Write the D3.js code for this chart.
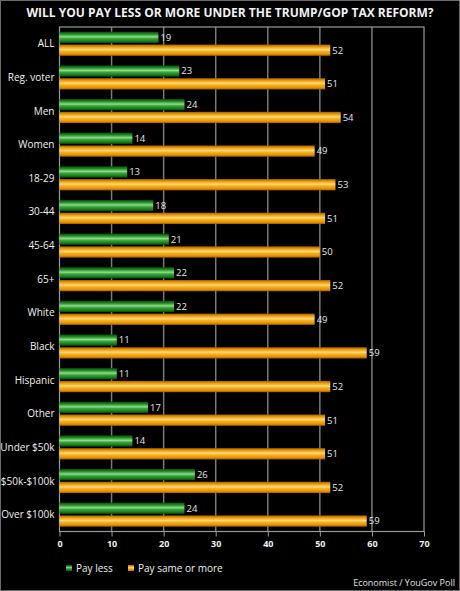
<!DOCTYPE html>
<html><head><meta charset="utf-8">
<script src="https://cdn.jsdelivr.net/npm/d3@7"></script>
<style>
html,body{margin:0;padding:0;background:#000;}
svg{display:block;font-family:"Open Sans","DejaVu Sans",sans-serif;}
</style></head>
<body>
<script>
const categories = ["ALL","Reg. voter","Men","Women","18-29","30-44","45-64","65+","White","Black","Hispanic","Other","Under $50k","$50k-$100k","Over $100k"];
const payLess = [19,23,24,14,13,18,21,22,22,11,11,17,14,26,24];
const paySame = [52,51,54,49,53,51,50,52,49,59,52,51,51,52,59];
const seriesNames = ["Pay less","Pay same or more"];
const xTicks = [0,10,20,30,40,50,60,70];

const W=460,H=591;
const m={left:59.5,right:424,top:27,bottom:531.5};
const svg=d3.select("body").append("svg").attr("width",W).attr("height",H);
const defs=svg.append("defs");
function grad(id,stops){
  const g=defs.append("linearGradient").attr("id",id).attr("x1",0).attr("x2",0).attr("y1",0).attr("y2",1);
  stops.forEach(s=>g.append("stop").attr("offset",s[0]).attr("stop-color",s[1]));
}
grad("gGreen",[[0,"#0b4d0b"],[0.2,"#1f8a1f"],[0.45,"#8fdc8f"],[0.6,"#3aa83a"],[0.85,"#177a17"],[1,"#0a420a"]]);
grad("gOrange",[[0,"#a86000"],[0.2,"#ec9c00"],[0.45,"#ffd880"],[0.6,"#f7b222"],[0.85,"#e49000"],[1,"#9a5800"]]);

svg.append("rect").attr("x",0.5).attr("y",0.5).attr("width",W-1).attr("height",H-1).attr("fill","#000").attr("stroke","#6a6a6a");

svg.append("text").attr("x",230).attr("y",17).attr("text-anchor","middle").attr("fill","#f2f2f2")
  .attr("font-size",12).attr("font-weight","bold").text("WILL YOU PAY LESS OR MORE UNDER THE TRUMP/GOP TAX REFORM?");

const x=d3.scaleLinear().domain([0,70]).range([m.left,m.right]);
const y=d3.scaleBand().domain(categories).range([m.top,m.bottom]).paddingInner(0.285).paddingOuter(0.1425);
const sub=d3.scaleBand().domain(seriesNames).range([0,y.bandwidth()]).paddingInner(0.12);

// gridlines
svg.append("g").selectAll("line").data(xTicks.filter(t=>t>0&&t<70)).join("line")
  .attr("x1",d=>x(d)).attr("x2",d=>x(d)).attr("y1",m.top).attr("y2",m.bottom)
  .attr("stroke","#7a7a7a").attr("stroke-width",1.5);
// plot border
svg.append("rect").attr("x",m.left).attr("y",m.top).attr("width",m.right-m.left).attr("height",m.bottom-m.top)
  .attr("fill","none").attr("stroke","#9a9a9a").attr("stroke-width",1.2);

const data=categories.map((c,i)=>({c,vals:[payLess[i],paySame[i]]}));
const fills=["url(#gGreen)","url(#gOrange)"];
const g=svg.append("g");
data.forEach(d=>{
  d.vals.forEach((v,j)=>{
    const yy=y(d.c)+sub(seriesNames[j]);
    g.append("rect").attr("x",x(0)).attr("y",yy).attr("width",x(v)-x(0)).attr("height",sub.bandwidth()).attr("fill",fills[j]);
    g.append("text").attr("x",x(v)+2).attr("y",yy+sub.bandwidth()/2).attr("dy","0.35em")
      .attr("fill","#e6e6e6").attr("font-size",9.5).text(v);
  });
});

// category labels
svg.append("g").selectAll("text").data(categories).join("text")
  .attr("x",m.left-5).attr("y",d=>y(d)+y.bandwidth()/2).attr("dy","0.35em").attr("text-anchor","end")
  .attr("fill","#f0f0f0").attr("font-size",10).text(d=>d);

// x axis
const ax=svg.append("g").attr("transform",`translate(0,${m.bottom})`)
  .call(d3.axisBottom(x).tickValues(xTicks).tickSize(5).tickPadding(4));
ax.select(".domain").remove();
ax.selectAll("line").attr("stroke","#9a9a9a");
ax.selectAll("text").attr("fill","#f0f0f0").attr("font-size",9).attr("font-weight","bold").attr("font-family","'Open Sans',sans-serif");

// legend
const lg=svg.append("g");
const lx=[66,128];
seriesNames.forEach((n,j)=>{
  lg.append("rect").attr("x",lx[j]).attr("y",565).attr("width",6).attr("height",6).attr("fill",fills[j]);
  lg.append("text").attr("x",lx[j]+10).attr("y",568).attr("dy","0.35em").attr("fill","#f0f0f0").attr("font-size",10).text(n);
});

svg.append("text").attr("x",455).attr("y",586).attr("text-anchor","end").attr("fill","#e0e0e0").attr("font-size",9).text("Economist / YouGov Poll");
</script>
</body></html>
